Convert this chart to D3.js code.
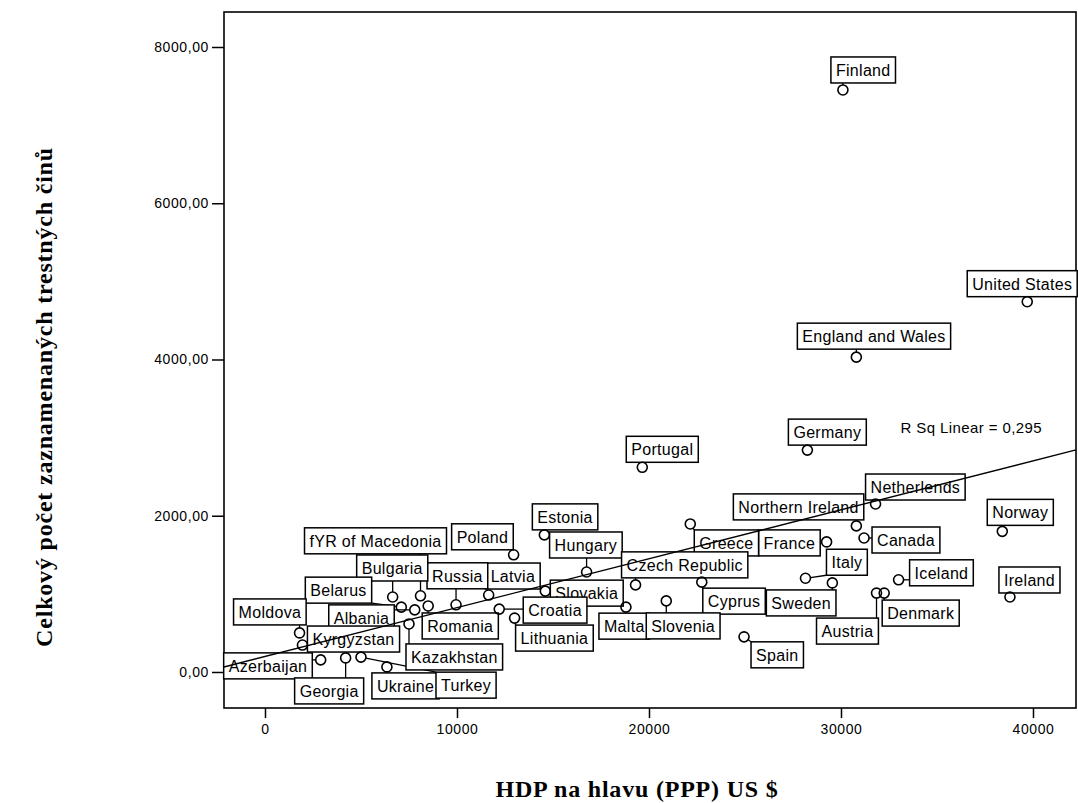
<!DOCTYPE html>
<html>
<head>
<meta charset="utf-8">
<script src="https://cdn.jsdelivr.net/npm/d3@7"></script>
<style>
  body { margin: 0; background: #fff; }
</style>
</head>
<body>
<div id="chart-area"></div>
<script>
// Data
var countries = ["Finland", "United States", "England and Wales", "Germany", "Portugal",
  "Netherlends", "Northern Ireland", "Norway", "Canada", "France", "Greece", "Estonia",
  "Poland", "Hungary", "Italy", "Iceland", "Sweden", "Denmark", "Austria", "Ireland",
  "Czech Republic", "Cyprus", "Slovakia", "Malta", "Slovenia", "Spain", "Croatia",
  "Lithuania", "Latvia", "Russia", "Bulgaria", "Belarus", "fYR of Macedonia", "Romania",
  "Albania", "Kazakhstan", "Ukraine", "Moldova", "Kyrgyzstan", "Azerbaijan", "Georgia", "Turkey"];
var gdp = [30100, 39700, 30800, 28250, 19650, 31800, 30800, 38400, 31200, 29250, 22150, 14550,
  12950, 16750, 28150, 33000, 29550, 32250, 31850, 38800, 19300, 22750, 14600, 18800, 20900,
  24950, 12200, 13000, 11650, 9950, 6650, 7100, 8100, 8500, 7800, 7500, 6350, 1800, 1950,
  2900, 4200, 5000];
var crime = [7450, 4740, 4030, 2840, 2620, 2150, 1870, 1800, 1715, 1665, 1895, 1755, 1500,
  1280, 1200, 1180, 1140, 1010, 1010, 960, 1115, 1150, 1035, 830, 910, 450, 805, 690, 985,
  860, 960, 830, 975, 845, 795, 615, 65, 500, 345, 155, 180, 190];
var xTicks = [0, 10000, 20000, 30000, 40000];
var yTicks = [0, 2000, 4000, 6000, 8000];
var regIntercept = 198, regSlope = 0.0626;
var rSqText = "R Sq Linear = 0,295";
var xTitle = "HDP na hlavu (PPP) US $";
var yTitle = "Celkový počet zaznamenaných trestných činů";

// label box placement: offset of the box's top-left corner from its point (px)
var labelPos = [[-12, -33], [-60, -31], [-59, -34], [-19, -31], [-16, -31], [-10, -30],
  [-123, -32], [-15, -32], [8, -11], [-68, -12], [4, 6], [-12, -31], [-62, -31], [-37, -40],
  [21, -29], [11, -20], [-66, 7], [-2, 7], [-60, 25], [-11, -30], [-14, -33], [1, 6],
  [5, -11], [-27, 6], [-20, 12], [7, 5], [24, -12], [1, 7], [-3, -32], [-29, -42],
  [-36, -42], [-96, -30], [-116, -68], [-6, 7], [-86, -5], [-3, 20], [-15, 6], [-66, -34],
  [5, -19], [-97, -7], [-51, 20], [75, 15]];

var data = countries.map(function(c, i) {
  return { name: c, gdp: gdp[i], crime: crime[i], pos: labelPos[i] };
});

var margin = { left: 224, right: 2, top: 12, bottom: 95 },
  width = 1078 - margin.left - margin.right,
  height = 803 - margin.top - margin.bottom;

var svg = d3.select("#chart-area")
  .append("svg")
  .attr("width", 1078)
  .attr("height", 803)
  .style("background", "#fff");

var g = svg.append("g")
  .attr("transform", "translate(" + margin.left + "," + margin.top + ")");

// Scales
var x = d3.scaleLinear().domain([-2135, 42240]).range([0, width]);
var y = d3.scaleLinear().domain([-461, 8448]).range([height, 0]);

var fmtY = function(d) { return d.toFixed(2).replace(".", ","); };

// Axes
var yAxis = g.append("g")
  .attr("class", "y axis")
  .call(d3.axisLeft(y).tickValues(yTicks).tickFormat(fmtY).tickSize(12).tickPadding(3));
var xAxis = g.append("g")
  .attr("class", "x axis")
  .attr("transform", "translate(0," + height + ")")
  .call(d3.axisBottom(x).tickValues(xTicks).tickFormat(d3.format("d")).tickSize(10).tickPadding(6));

g.selectAll(".axis .domain").remove();
g.selectAll(".axis line").attr("stroke", "#000").attr("stroke-width", 1.5);
g.selectAll(".axis text")
  .attr("fill", "#000")
  .style("font-family", "'Liberation Sans', Arial, sans-serif")
  .style("font-size", "14px")
  .style("letter-spacing", "0.6px");

// Frame
g.append("rect")
  .attr("width", width)
  .attr("height", height)
  .attr("fill", "none")
  .attr("stroke", "#000")
  .attr("stroke-width", 1.6);

// Labels (boxes)
var labelFont = "'Liberation Sans', Arial, sans-serif";
var boxH = 26, pad = 5, r = 5;

var labels = g.append("g").attr("class", "labels")
  .selectAll("g")
  .data(data)
  .enter()
  .append("g")
  .attr("transform", function(d) {
    return "translate(" + (x(d.gdp) + d.pos[0]) + "," + (y(d.crime) + d.pos[1]) + ")";
  });

var texts = labels.append("text")
  .attr("x", pad)
  .attr("y", 19)
  .style("font-family", labelFont)
  .style("font-size", "16px")
  .style("letter-spacing", "0.3px")
  .attr("fill", "#000")
  .text(function(d) { return d.name; });

texts.each(function(d) {
  d.w = this.getComputedTextLength() + 2 * pad;
});

// Connector lines from point to nearest edge of its box
var connectors = g.insert("g", ".labels").attr("class", "connectors");
data.forEach(function(d) {
  var px = x(d.gdp), py = y(d.crime);
  var bx = px + d.pos[0], by = py + d.pos[1];
  var nx = Math.max(bx, Math.min(px, bx + d.w));
  var ny = Math.max(by, Math.min(py, by + boxH));
  var dist = Math.hypot(nx - px, ny - py);
  if (dist > r + 1) {
    connectors.append("line")
      .attr("x1", px + (nx - px) / dist * r)
      .attr("y1", py + (ny - py) / dist * r)
      .attr("x2", nx)
      .attr("y2", ny)
      .attr("stroke", "#000")
      .attr("stroke-width", 1.3);
  }
});

labels.insert("rect", "text")
  .attr("width", function(d) { return d.w; })
  .attr("height", boxH)
  .attr("fill", "#fff")
  .attr("stroke", "#000")
  .attr("stroke-width", 1.5);

// Points
g.append("g").attr("class", "points")
  .selectAll("circle")
  .data(data)
  .enter()
  .append("circle")
  .attr("cx", function(d) { return x(d.gdp); })
  .attr("cy", function(d) { return y(d.crime); })
  .attr("r", r)
  .attr("fill", "none")
  .attr("stroke", "#000")
  .attr("stroke-width", 1.6);

// Fit line
var xd = x.domain();
var fitLine = d3.line()
  .x(function(d) { return x(d); })
  .y(function(d) { return y(regIntercept + regSlope * d); });
g.append("path")
  .attr("class", "line")
  .attr("d", fitLine(xd))
  .attr("fill", "none")
  .attr("stroke", "#000")
  .attr("stroke-width", 1.4);

g.append("text")
  .attr("x", x(33100))
  .attr("y", y(3055))
  .style("font-family", labelFont)
  .style("font-size", "15px")
  .style("letter-spacing", "0.4px")
  .attr("fill", "#000")
  .text(rSqText);

// Axis titles
svg.append("text")
  .attr("x", 637)
  .attr("y", 797)
  .attr("text-anchor", "middle")
  .style("font-family", "'Liberation Serif', 'Times New Roman', serif")
  .style("font-weight", "bold")
  .style("font-size", "24px")
  .style("letter-spacing", "0.8px")
  .text(xTitle);

svg.append("text")
  .attr("transform", "translate(52,397) rotate(-90)")
  .attr("text-anchor", "middle")
  .style("font-family", "'Liberation Serif', 'Times New Roman', serif")
  .style("font-weight", "bold")
  .style("font-size", "24px")
  .style("letter-spacing", "0.8px")
  .text(yTitle);
</script>
</body>
</html>
